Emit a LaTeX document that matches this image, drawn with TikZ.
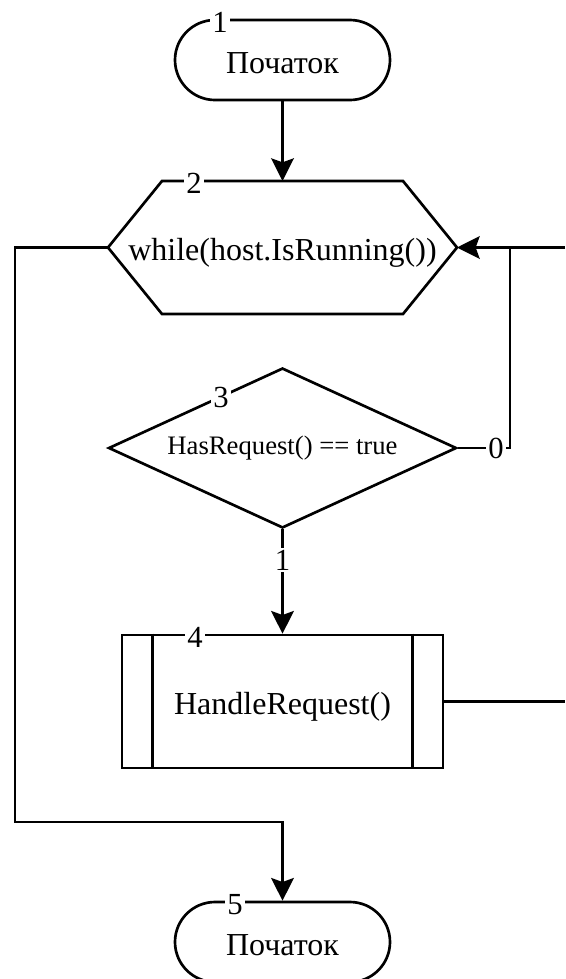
\documentclass[tikz,border=0pt]{standalone}
\usepackage{fontspec}
\setmainfont{Liberation Serif}
\usepackage{tikz}
\usetikzlibrary{shapes.geometric}
\usetikzlibrary{arrows.meta}

\begin{document}
\begin{tikzpicture}[x=0.75pt,y=-0.75pt,line width=2pt,
	txt/.style={font=\fontsize{24}{28}\selectfont,text height=23pt,text depth=3pt},
	term/.style={draw,rounded corners=30pt,minimum width=161.25pt,minimum height=60pt,inner sep=0pt,txt},
	num/.style={fill=white,inner sep=1.5pt,font=\fontsize{23}{25}\selectfont},
	arr/.style={-{Stealth[length=17pt,width=17pt,inset=3pt]}}]
	\useasboundingbox (0,0) rectangle (565,979);
	\clip (0,0) rectangle (565,979);

	\node [term] (term1) at (282.5,60) {Початок};
	\node [minimum width=180.75pt,minimum height=99.75pt,inner sep=0pt,outer sep=0pt,
		label={[txt]center:while(host.IsRunning())}] (loop2) at (282.5,247.5) {};
	\draw (loop2.north west) -- (loop2.north east) -- ([xshift=40.5pt]loop2.east) -- (loop2.south east)
		-- (loop2.south west) -- ([xshift=-40.5pt]loop2.west) -- cycle;
	\node [draw,diamond,aspect=2.175,minimum width=261pt,minimum height=120pt,inner sep=0pt,font=\fontsize{20}{24}\selectfont] (cond3) at (282.5,448) {HasRequest() == true};
	\node [draw,txt,minimum width=240.75pt,minimum height=99.75pt] (proc4) at (282.5,701.5) {HandleRequest()};
	\draw ([xshift=24pt]proc4.north west) -- ([xshift=24pt]proc4.south west);
	\draw ([xshift=-24pt]proc4.north east) -- ([xshift=-24pt]proc4.south east);
	\node [term] (term5) at (282.5,942) {Початок};

	\draw [arr] (term1) -- (loop2);
	\draw [arr] ([xshift=-40.5pt]loop2.west) -| (15,822) -| (term5);
	\draw [arr] (565,247.5) -- ([xshift=40.5pt]loop2.east);
	\draw (cond3) -- (510,448) -- (510,247.5);
	\draw [arr] (cond3) -- (proc4);
	\draw (proc4) -- (565,701.5);

	\foreach \pt/\i in {(220,22)/1, (194,183)/2, (221,397)/3, (195,637)/4, (235,905)/5} {
		\node [num] (n\i) at \pt {\i};
	}
	\node [num] (no0) at (496,448) {0};
	\node [num] (yes1) at (282.5,560) {1};
\end{tikzpicture}
\end{document}
